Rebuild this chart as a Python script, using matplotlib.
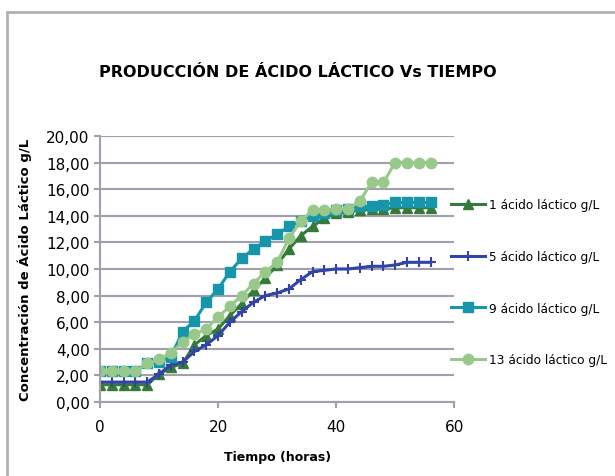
import numpy as np
import matplotlib
matplotlib.use("Agg")
import matplotlib.pyplot as plt
from matplotlib.patches import Rectangle

# tiempo (horas)
tiempo = [0, 2, 4, 6, 8, 10, 12, 14, 16, 18, 20, 22, 24, 26, 28,
          30, 32, 34, 36, 38, 40, 42, 44, 46, 48, 50, 52, 54, 56]

# concentracion (g/L) por serie
s1 = [1.3, 1.3, 1.3, 1.3, 1.3, 2.1, 2.6, 2.9, 4.3, 5.0, 5.5, 6.5, 7.4, 8.4, 9.3,
      10.3, 11.5, 12.5, 13.2, 13.8, 14.2, 14.3, 14.4, 14.5, 14.5, 14.6, 14.6, 14.6, 14.6]
s5 = [1.5, 1.5, 1.5, 1.5, 1.5, 2.1, 2.8, 3.0, 3.8, 4.3, 5.0, 6.0, 6.8, 7.5, 8.0,
      8.2, 8.5, 9.2, 9.8, 9.9, 10.0, 10.0, 10.1, 10.2, 10.2, 10.3, 10.5, 10.5, 10.5]
s9 = [2.3, 2.3, 2.3, 2.3, 2.9, 3.0, 3.4, 5.3, 6.1, 7.5, 8.5, 9.8, 10.8, 11.5, 12.1,
      12.6, 13.2, 13.6, 14.0, 14.2, 14.4, 14.5, 14.7, 14.7, 14.8, 15.0, 15.0, 15.0, 15.0]
s13 = [2.3, 2.3, 2.3, 2.3, 2.9, 3.2, 3.7, 4.5, 5.1, 5.5, 6.4, 7.2, 8.0, 8.9, 9.8,
       10.5, 12.3, 13.6, 14.4, 14.4, 14.5, 14.5, 15.1, 16.5, 16.5, 18.0, 18.0, 18.0, 18.0]

labels = ["1 ácido láctico g/L", "5 ácido láctico g/L",
          "9 ácido láctico g/L", "13 ácido láctico g/L"]
yticks = [0, 2, 4, 6, 8, 10, 12, 14, 16, 18, 20]
xticks = [0, 20, 40, 60]

GRID = "#a09fab"

fig = plt.figure(figsize=(6.15, 4.77), dpi=100)
ax = fig.add_axes([0.1626, 0.155, 0.576, 0.558])

styles = [
    dict(color="#357a38", marker="^", ms=7),
    dict(color="#3344a8", marker="+", ms=7.5, mew=1.5),
    dict(color="#1796ab", marker="s", ms=7),
    dict(color="#98c98a", marker="o", ms=7.5),
]
for ys, lab, st in zip([s1, s5, s9, s13], labels, styles):
    ax.plot(tiempo, ys, lw=2.2, label=lab, **st)

ax.set_xlim(0, 60)
ax.set_ylim(0, 20)
ax.set_xticks(xticks)
ax.set_yticks(yticks)
ax.set_yticklabels([f"{v:.2f}".replace(".", ",") for v in yticks])
ax.tick_params(labelsize=11, color=GRID, length=4, width=1.5)
ax.tick_params(axis="x", pad=8)
ax.yaxis.grid(True, color=GRID, lw=1.5)
ax.set_axisbelow(True)
for side in ["top", "right"]:
    ax.spines[side].set_visible(False)
for side in ["left", "bottom"]:
    ax.spines[side].set_color(GRID)
    ax.spines[side].set_linewidth(1.5)

ax.set_xlabel("Tiempo (horas)", fontsize=9, fontweight="bold", labelpad=12)
ax.set_ylabel("Concentración de Ácido Láctico g/L", fontsize=9.5, fontweight="bold", labelpad=10)

fig.text(0.485, 0.847, "PRODUCCIÓN DE ÁCIDO LÁCTICO Vs TIEMPO",
         ha="center", va="center", fontsize=11.5, fontweight="bold")

fig.legend(loc="upper left", bbox_to_anchor=(0.716, 0.605), frameon=False,
           fontsize=8.7, labelspacing=3.2, handlelength=2.8, handletextpad=0.3)

fig.patches.append(Rectangle((7 / 615, -0.1), 1.2, 1.1 - 13 / 477,
                             transform=fig.transFigure, fill=False,
                             edgecolor="#b0b0b0", lw=2))

fig.savefig("out.png", dpi=100)
